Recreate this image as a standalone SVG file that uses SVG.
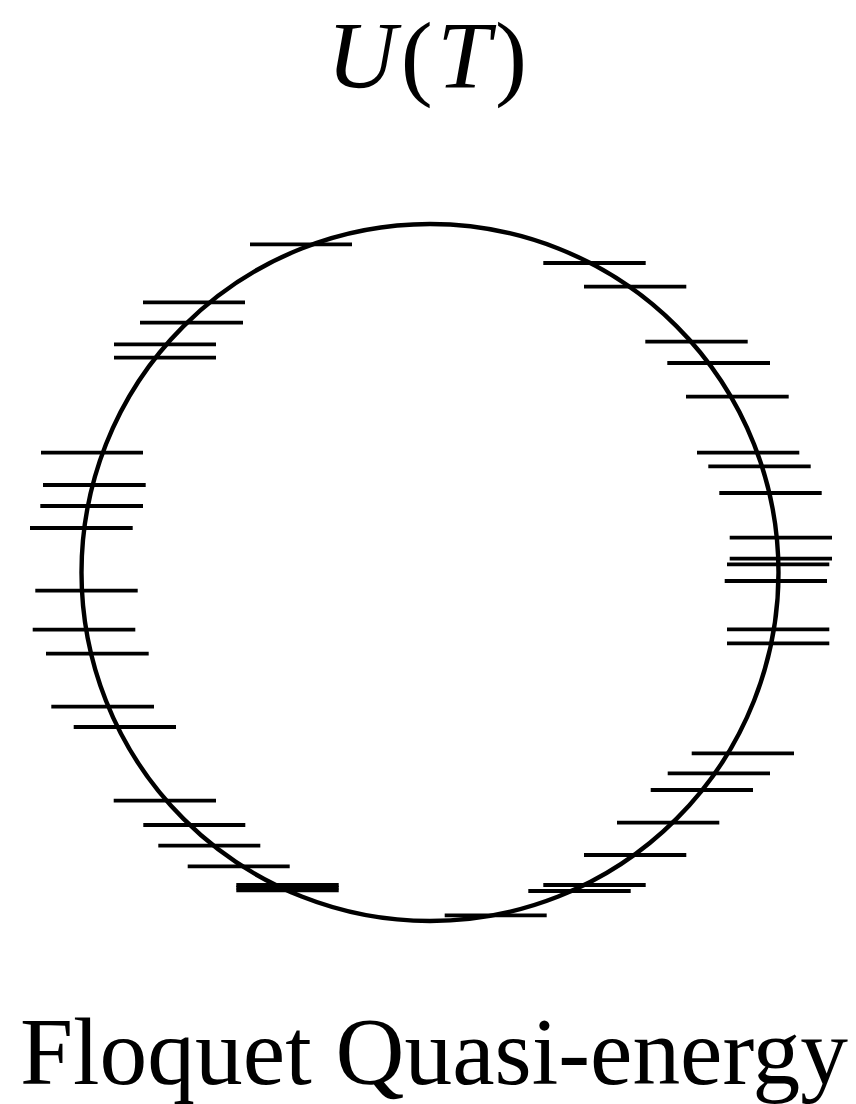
<svg xmlns="http://www.w3.org/2000/svg" width="856" height="1104" viewBox="0 0 856 1104">
<style>
.lvl{stroke:#000;stroke-width:3.8;fill:none}
.circ{stroke:#000;stroke-width:4.4;fill:none}
.title{font-family:"Liberation Serif","Times New Roman",serif;font-size:96px;fill:#000}
</style>
<rect width="856" height="1104" fill="#fff"/>
<g id="title-UT">
<text class="title" x="427" y="88" text-anchor="middle" textLength="200" lengthAdjust="spacing"><tspan font-style="italic">U</tspan>(<tspan font-style="italic">T</tspan>)</text>
</g>
<g id="unit-circle">
<circle class="circ" cx="430" cy="572.5" r="348.5"/>
</g>
<g id="levels">
<line class="lvl" x1="250" y1="244.3" x2="352" y2="244.3"/>
<line class="lvl" x1="143" y1="302.3" x2="245" y2="302.3"/>
<line class="lvl" x1="140" y1="322.7" x2="243" y2="322.7"/>
<line class="lvl" x1="114" y1="344.3" x2="216" y2="344.3"/>
<line class="lvl" x1="114" y1="357.7" x2="216" y2="357.7"/>
<line class="lvl" x1="41" y1="452.7" x2="143" y2="452.7"/>
<line class="lvl" x1="43" y1="485" x2="145.7" y2="485"/>
<line class="lvl" x1="40.3" y1="506" x2="143" y2="506"/>
<line class="lvl" x1="30" y1="528" x2="132.7" y2="528"/>
<line class="lvl" x1="35.3" y1="590.7" x2="137.7" y2="590.7"/>
<line class="lvl" x1="32.7" y1="629.7" x2="135.3" y2="629.7"/>
<line class="lvl" x1="46" y1="653.7" x2="148.7" y2="653.7"/>
<line class="lvl" x1="51.3" y1="706.7" x2="154" y2="706.7"/>
<line class="lvl" x1="73.7" y1="727" x2="176" y2="727"/>
<line class="lvl" x1="113.7" y1="800.7" x2="216" y2="800.7"/>
<line class="lvl" x1="143.3" y1="825" x2="245.3" y2="825"/>
<line class="lvl" x1="158.3" y1="845.7" x2="260.3" y2="845.7"/>
<line class="lvl" x1="187.7" y1="866.3" x2="289.7" y2="866.3"/>
<line class="lvl" x1="236.3" y1="885" x2="338.7" y2="885"/>
<line class="lvl" x1="236.3" y1="887.7" x2="338.7" y2="887.7"/>
<line class="lvl" x1="236.3" y1="890.4" x2="338.7" y2="890.4"/>
<line class="lvl" x1="444.7" y1="915.3" x2="546.7" y2="915.3"/>
<line class="lvl" x1="528.3" y1="891" x2="630.7" y2="891"/>
<line class="lvl" x1="543.3" y1="885" x2="645.7" y2="885"/>
<line class="lvl" x1="584" y1="855" x2="686.3" y2="855"/>
<line class="lvl" x1="617" y1="822.7" x2="719.3" y2="822.7"/>
<line class="lvl" x1="650.7" y1="790" x2="753" y2="790"/>
<line class="lvl" x1="667.7" y1="773.3" x2="770" y2="773.3"/>
<line class="lvl" x1="691.7" y1="753.3" x2="794" y2="753.3"/>
<line class="lvl" x1="727" y1="643.3" x2="829.3" y2="643.3"/>
<line class="lvl" x1="727" y1="629.3" x2="829.3" y2="629.3"/>
<line class="lvl" x1="724.7" y1="581" x2="827" y2="581"/>
<line class="lvl" x1="727" y1="564.3" x2="829.3" y2="564.3"/>
<line class="lvl" x1="729.7" y1="558.7" x2="832" y2="558.7"/>
<line class="lvl" x1="729.7" y1="537.7" x2="832" y2="537.7"/>
<line class="lvl" x1="719.3" y1="493" x2="821.7" y2="493"/>
<line class="lvl" x1="708.3" y1="466.3" x2="810.7" y2="466.3"/>
<line class="lvl" x1="697" y1="452.7" x2="799.3" y2="452.7"/>
<line class="lvl" x1="686" y1="396.7" x2="788.7" y2="396.7"/>
<line class="lvl" x1="667.3" y1="363" x2="770" y2="363"/>
<line class="lvl" x1="645.3" y1="341.7" x2="747.7" y2="341.7"/>
<line class="lvl" x1="584" y1="286.7" x2="686.3" y2="286.7"/>
<line class="lvl" x1="543.3" y1="263" x2="645.7" y2="263"/>
</g>
<g id="label-floquet">
<text class="title" x="434" y="1084" text-anchor="middle" textLength="828" lengthAdjust="spacingAndGlyphs">Floquet Quasi-energy</text>
</g>
</svg>
